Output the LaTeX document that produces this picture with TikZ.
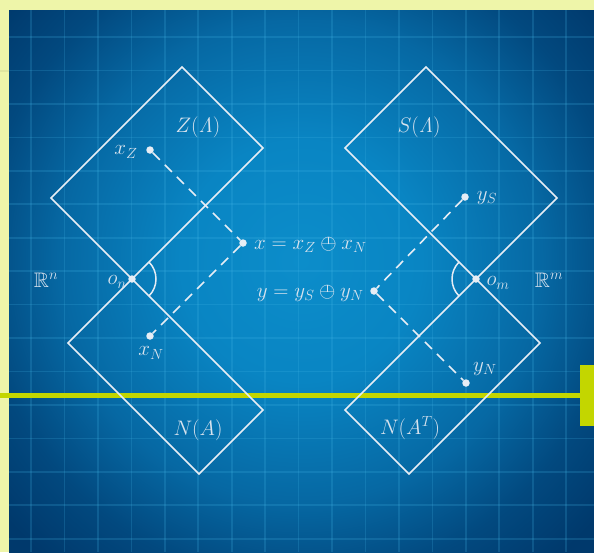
\RequirePackage{fix-cm}
\documentclass[tikz,border=0pt]{standalone}
\usepackage{amssymb}
\definecolor{bgyellow}{HTML}{EEF5A9}
\definecolor{barcol}{HTML}{C3D600}
\definecolor{bga}{HTML}{0C8DCA}
\definecolor{bgb}{HTML}{0985C3}
\definecolor{bgc}{HTML}{0668A3}
\definecolor{bgd}{HTML}{02497F}
\definecolor{bge}{HTML}{00396C}
\definecolor{gridcol}{HTML}{45B8E8}
\definecolor{linecol}{HTML}{E6EDF5}
\definecolor{textcol}{HTML}{D8E3EE}
\pgfdeclareradialshading{bgshade}{\pgfpoint{0bp}{0bp}}{color(0bp)=(bga); color(120bp)=(bgb); color(240bp)=(bgc); color(320bp)=(bgd); color(390bp)=(bge); color(420bp)=(bge)}
\newcommand\osumbar{\mathbin{\ooalign{$\ominus$\cr\hidewidth\rule[0.25em]{0.045em}{0.333em}\hidewidth\cr}}}
\begin{document}
\begin{tikzpicture}[x=1pt,y=-1pt,
  gridline/.style={draw=gridcol,line width=1.7pt,opacity=0.2},
  figline/.style={draw=linecol,line width=1.5pt,line join=miter},
  dashline/.style={draw=linecol,line width=1.6pt,dash pattern=on 10pt off 7pt},
  dot/.style={circle,fill=linecol,inner sep=0pt,minimum size=7.5pt},
  lbl/.style={text=textcol,font=\fontsize{21}{25}\selectfont,inner sep=1pt}]
\useasboundingbox (0,0) rectangle (594,552);
\fill[bgyellow] (0,0) rectangle (594,552);
\draw[black,opacity=0.06,line width=1.5pt] (0,71) -- (9,71);
\begin{scope}
  \clip (9,10) rectangle (594,552);
  \fill[bge] (9,10) rectangle (594,552);
  \pgflowlevelobj{\pgftransformshift{\pgfpoint{301pt}{-261pt}}}{\pgfuseshading{bgshade}}
  \foreach \i in {0,...,16} \draw[gridline] ({31+33.45*\i},10) -- ++(0,542);
  \foreach \i in {0,...,15} \draw[gridline] (9,{37+33.45*\i}) -- ++(585,0);
\end{scope}
% yellow-green bar
\fill[barcol] (0,392.5) rectangle (583,397.5);
\fill[barcol] (580,365) rectangle (594,426);
% left figure
\coordinate (on) at (132,279);
\coordinate (zr) at (263,148);
\coordinate (zt) at (182,67);
\coordinate (zl) at (51,198);
\coordinate (nl) at (68,343);
\coordinate (nb) at (199,474);
\coordinate (nr) at (263,410);
\draw[figline] (on) -- (zr) -- (zt) -- (zl) -- cycle;
\draw[figline] (on) -- (nl) -- (nb) -- (nr) -- cycle;
\draw[figline] ([shift={(-45:24)}]on) arc[start angle=-45,end angle=45,radius=24];
% right figure
\coordinate (om) at (476,279);
\coordinate (sl) at (345,148);
\coordinate (st) at (426,67);
\coordinate (sr) at (557,198);
\coordinate (mr) at (540,343);
\coordinate (mb) at (409,474);
\coordinate (ml) at (345,410);
\draw[figline] (om) -- (sl) -- (st) -- (sr) -- cycle;
\draw[figline] (om) -- (mr) -- (mb) -- (ml) -- cycle;
\draw[figline] ([shift={(135:24)}]om) arc[start angle=135,end angle=225,radius=24];
% dots
\node[dot] (don) at (on) {};
\node[dot] (dom) at (om) {};
\node[dot] (xz) at (150,150) {};
\node[dot] (xx) at (243,243) {};
\node[dot] (xn) at (150,336) {};
\node[dot] (ys) at (465,197) {};
\node[dot] (yy) at (374,291) {};
\node[dot] (yn) at (466,383) {};
\draw[dashline] (xz) -- (xx) -- (xn);
\draw[dashline] (ys) -- (yy) -- (yn);
% labels
\node[lbl] (tZ) at (198,127) {$Z(\mathit{\Lambda})$};
\node[lbl] (tS) at (419,127) {$S(\mathit{\Lambda})$};
\node[lbl] (tN) at (198,430) {$N(A)$};
\node[lbl] (tNT) at (410,428) {$N(A^T)$};
\node[lbl] (tRn) at (46,280) {$\mathbb{R}^n$};
\node[lbl] (tRm) at (549,280) {$\mathbb{R}^m$};
\node[lbl] (ton) at (117,282) {$o_n$};
\node[lbl] (tom) at (498,283) {$o_m$};
\node[lbl] (txz) at (126,152) {$x_Z$};
\node[lbl] (txn) at (151,353) {$x_N$};
\node[lbl,anchor=west] (tx) at (253,245) {$x=x_Z\osumbar x_N$};
\node[lbl] (tys) at (487,198) {$y_S$};
\node[lbl] (tyn) at (485,369) {$y_N$};
\node[lbl,anchor=east] (ty) at (365,293) {$y=y_S\osumbar y_N$};
\end{tikzpicture}
\end{document}
